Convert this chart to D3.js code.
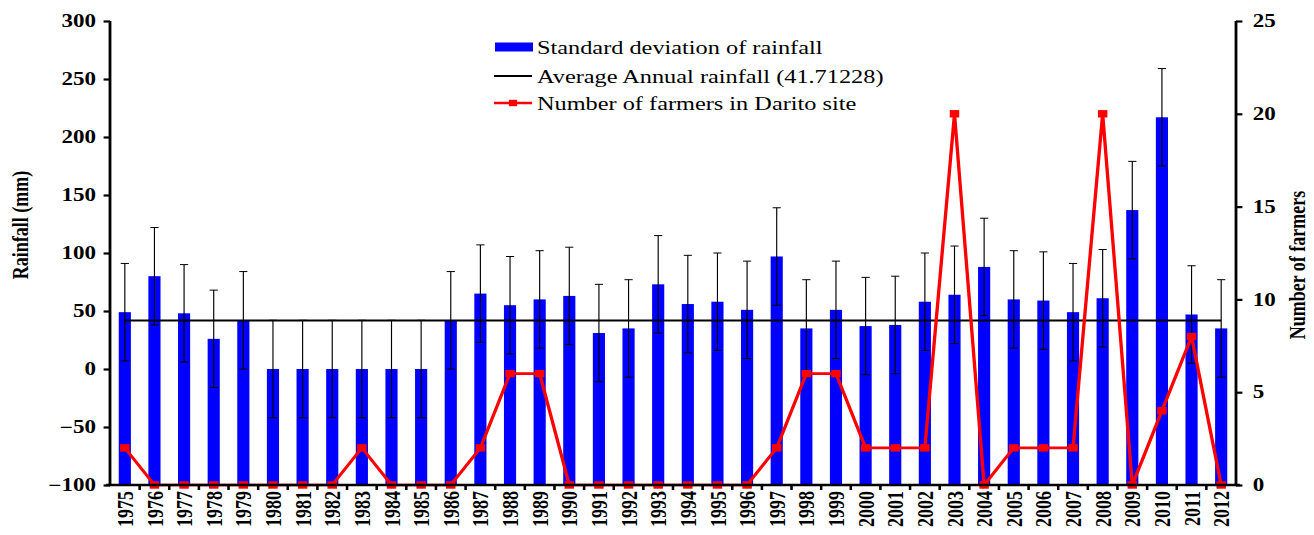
<!DOCTYPE html>
<html>
<head>
<meta charset="utf-8">
<script src="https://cdn.jsdelivr.net/npm/d3@7/dist/d3.min.js"></script>
<style>
html,body{margin:0;padding:0;background:#fff;}
svg{display:block;}
text{font-family:"Liberation Serif","Times New Roman",serif;}
</style>
</head>
<body>
<svg id="chart"></svg>
<script>
const years = ["1975","1976","1977","1978","1979","1980","1981","1982","1983","1984","1985","1986","1987","1988","1989","1990","1991","1992","1993","1994","1995","1996","1997","1998","1999","2000","2001","2002","2003","2004","2005","2006","2007","2008","2009","2010","2011","2012"];
const rainfallSD = [49,80,48,26,42,0,0,0,0,0,0,42,65,55,60,63,31,35,73,56,58,51,97,35,51,37,38,58,64,88,60,59,49,61,137,217,47,35];
const errorSD = [42,42,42,42,42,42,42,42,42,42,42,42,42,42,42,42,42,42,42,42,42,42,42,42,42,42,42,42,42,42,42,42,42,42,42,42,42,42];
const farmers = [2,0,0,0,0,0,0,0,2,0,0,0,2,6,6,0,0,0,0,0,0,0,2,6,6,2,2,2,20,0,2,2,2,20,0,4,8,0];
const averageRainfall = 41.71228;
const leftTicks = [-100,-50,0,50,100,150,200,250,300];
const rightTicks = [0,5,10,15,20,25];
const legendLabels = ["Standard deviation of rainfall","Average Annual rainfall (41.71228)","Number of farmers in Darito site"];

(function(){
const SX = 1.28;
const WIDTH = 1314, HEIGHT = 535;
const W = WIDTH / SX;
const svg = d3.select("#chart")
  .attr("width", WIDTH).attr("height", HEIGHT)
  .attr("viewBox", `0 0 ${W} ${HEIGHT}`)
  .attr("preserveAspectRatio", "none");

const pLeft = 110 / SX, pRight = 1236 / SX, pTop = 21, pBottom = 485;
const font = '"Liberation Serif","Times New Roman",serif';

const x = d3.scaleBand().domain(years).range([pLeft, pRight]).padding(0);
const y = d3.scaleLinear().domain([-100, 300]).range([pBottom, pTop]);
const y2 = d3.scaleLinear().domain([0, 25]).range([pBottom, pTop]);

const barW = x.bandwidth() * 0.41;
const cx = d => x(d) + x.bandwidth()/2;
const g = svg.append("g");

// bars
g.selectAll("rect.bar").data(years).join("rect")
  .attr("class","bar")
  .attr("x", d => cx(d) - barW/2)
  .attr("width", barW)
  .attr("y", (d,i) => y(rainfallSD[i]))
  .attr("height", (d,i) => y(-100) - y(rainfallSD[i]))
  .attr("fill", "#0000ff");

// error bars
const capW = 3.2;
const eb = g.selectAll("g.err").data(years).join("g").attr("class","err");
eb.append("line")
  .attr("x1", cx).attr("x2", cx)
  .attr("y1", (d,i) => y(rainfallSD[i] + errorSD[i])).attr("y2", (d,i) => y(rainfallSD[i] - errorSD[i]))
  .attr("stroke","#000").attr("stroke-width",0.9);
[1,-1].forEach(s => {
  eb.append("line")
    .attr("x1", d => cx(d) - capW).attr("x2", d => cx(d) + capW)
    .attr("y1", (d,i) => y(rainfallSD[i] + s*errorSD[i])).attr("y2", (d,i) => y(rainfallSD[i] + s*errorSD[i]))
    .attr("stroke","#000").attr("stroke-width",1);
});

// average line
g.append("line")
  .attr("x1", cx(years[0])).attr("x2", cx(years[years.length-1]))
  .attr("y1", y(averageRainfall)).attr("y2", y(averageRainfall))
  .attr("stroke","#000").attr("stroke-width",2);

// farmers line
const line = d3.line().x((d,i) => cx(years[i])).y(d => y2(d));
g.append("path").datum(farmers).attr("d", line)
  .attr("fill","none").attr("stroke","#ff0000").attr("stroke-width",2.6);
const mk = 7.4;
g.selectAll("rect.mk").data(farmers).join("rect")
  .attr("class","mk")
  .attr("x", (d,i) => cx(years[i]) - mk/2)
  .attr("y", d => y2(d) - mk/2)
  .attr("width", mk).attr("height", mk)
  .attr("fill","#ff0000");

// axes
const axL = d3.axisLeft(y).tickValues(leftTicks).tickSize(5).tickPadding(6);
const gL = svg.append("g").attr("transform", `translate(${pLeft},0)`).call(axL);
const axR = d3.axisRight(y2).tickValues(rightTicks).tickSize(5).tickPadding(8);
const gR = svg.append("g").attr("transform", `translate(${pRight},0)`).call(axR);
[gL, gR].forEach(a => {
  a.select(".domain").attr("stroke","#000").attr("stroke-width",2.2).attr("d", `M0,${pBottom}V${pTop}`);
  a.selectAll(".tick line").attr("stroke","#000").attr("stroke-width",2.2);
  a.selectAll(".tick text").attr("font-size",18).attr("font-weight","bold").attr("fill","#000")
    .style("font-family", font);
});

const axB = d3.axisBottom(x).tickSize(0).tickPadding(0);
const gB = svg.append("g").attr("transform", `translate(0,${pBottom})`).call(axB);
gB.select(".domain").attr("stroke","#000").attr("stroke-width",2.4).attr("d", `M${pLeft - 3},0H${pRight + 3}`);
gB.selectAll(".tick text")
  .attr("font-size",18).attr("font-weight","bold").attr("fill","#000")
  .style("font-family", font)
  .attr("text-anchor","end")
  .attr("x",0).attr("y",0)
  .attr("dy","0.35em")
  .attr("transform","translate(0,6) rotate(-90)");
// boundary ticks on x-axis
const bounds = years.map(d => x(d));
svg.append("g").selectAll("line").data(bounds.slice(1)).join("line")
  .attr("x1", d => d).attr("x2", d => d)
  .attr("y1", pBottom).attr("y2", pBottom + 5)
  .attr("stroke","#000").attr("stroke-width",2);

// axis titles
svg.append("text")
  .attr("transform", `translate(${20/SX},${225}) rotate(-90)`)
  .attr("text-anchor","middle").attr("dy","0.35em")
  .attr("font-size",18).attr("font-weight","bold").text("Rainfall (mm)");
svg.append("text")
  .attr("transform", `translate(${1297/SX},${265}) rotate(-90)`)
  .attr("text-anchor","middle").attr("dy","0.35em")
  .attr("font-size",18).attr("font-weight","bold").text("Number of farmers");

// legend
const lg = svg.append("g");
const lx0 = 494 / SX, lx1 = 532 / SX, tx = 537 / SX;
const rowsY = [47, 76, 103];
lg.append("rect").attr("x", lx0 + 1/SX).attr("y", rowsY[0]-4.5).attr("width", lx1 - lx0).attr("height", 9).attr("fill","#0000ff");
lg.append("line").attr("x1", lx0).attr("x2", lx1).attr("y1", rowsY[1]).attr("y2", rowsY[1]).attr("stroke","#000").attr("stroke-width",2);
lg.append("line").attr("x1", lx0).attr("x2", lx1).attr("y1", rowsY[2]).attr("y2", rowsY[2]).attr("stroke","#ff0000").attr("stroke-width",2.4);
lg.append("rect").attr("x", (lx0+lx1)/2 - 3.2).attr("y", rowsY[2]-3.2).attr("width",6.4).attr("height",6.4).attr("fill","#ff0000");
lg.selectAll("text").data(legendLabels).join("text")
  .attr("x", tx).attr("y", (d,i) => rowsY[i]).attr("dy","0.35em")
  .attr("font-size",19).attr("fill","#000").text(d => d);
})();
</script>
</body>
</html>
